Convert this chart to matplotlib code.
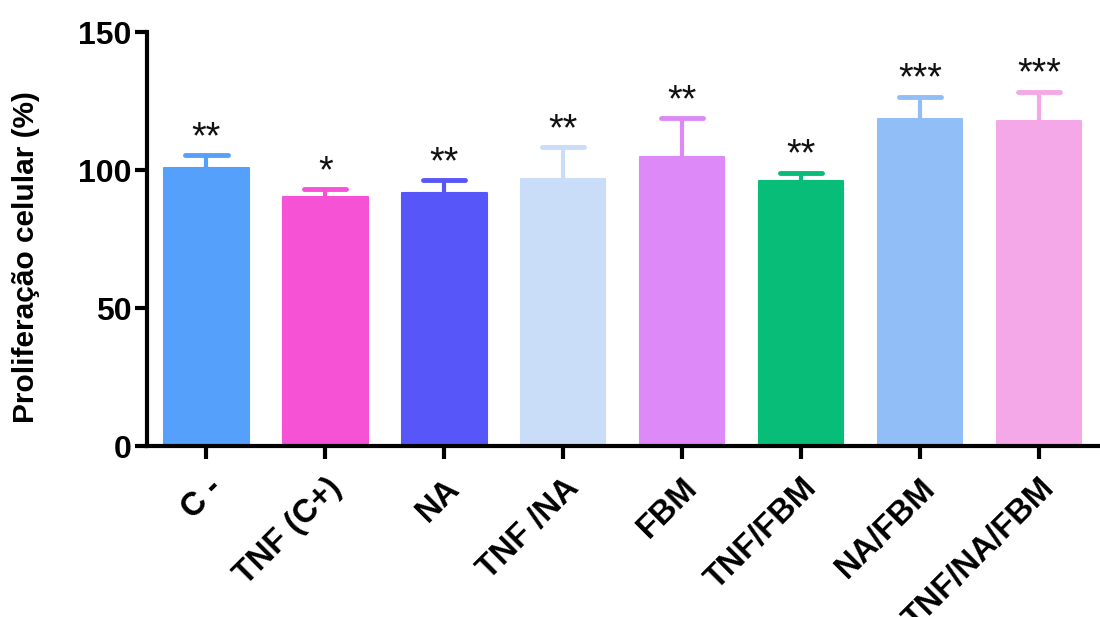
import matplotlib
matplotlib.use("Agg")
import matplotlib.pyplot as plt

plt.rcParams['font.family'] = ['Liberation Sans', 'DejaVu Sans']

# Grupos e valores (média e erro superior)
grupos = ['C -', 'TNF (C+)', 'NA', 'TNF /NA', 'FBM', 'TNF/FBM', 'NA/FBM', 'TNF/NA/FBM']
media = [100.6, 90.3, 91.7, 96.7, 104.8, 96.1, 118.5, 117.9]
erro = [4.8, 2.9, 4.7, 11.6, 13.9, 3.0, 8.1, 10.5]
signif = ['**', '*', '**', '**', '**', '**', '***', '***']
cores = ['#55A0FB', '#F552D6', '#5757F9', '#C9DDF8', '#DD8AF8', '#08BD78', '#92BEF8', '#F5A8E8']

fig = plt.figure(figsize=(11, 6.17), dpi=100)
ax = fig.add_axes([0.1336, 0.277, 0.865, 0.671])

x = list(range(len(grupos)))
largura = 0.71
ax.bar(x, media, width=largura, color=cores, edgecolor=cores, linewidth=1.5,
       joinstyle='round', zorder=2)

# só o lado de cima do erro: haste + traço horizontal
for i in x:
    topo = media[i] + erro[i]
    ax.vlines(i, media[i], topo, colors=cores[i], linewidth=3, zorder=1)
    ax.hlines(topo, i - largura / 4, i + largura / 4, colors=cores[i],
              linewidth=3.5, capstyle='round', zorder=1)
    ax.annotate(signif[i], (i, topo), xytext=(0, 5),
                textcoords='offset points', ha='center', va='baseline',
                fontsize=27, color='#111111')

ax.set_xlim(-0.5, 7.5)
ax.set_ylim(0, 150)
ax.set_yticks([0, 50, 100, 150])
ax.set_xticks(x)
ax.set_xticklabels(grupos, rotation=45, ha='right', rotation_mode='anchor',
                   fontsize=23.5, fontweight='bold')
for lab in ax.get_yticklabels():
    lab.set_fontsize(23)
    lab.set_fontweight('bold')
ax.set_ylabel('Proliferação celular (%)', fontsize=21.5, fontweight='bold')
ax.yaxis.set_label_coords(-0.112, 0.457)

for s in ['top', 'right']:
    ax.spines[s].set_visible(False)
for s in ['left', 'bottom']:
    ax.spines[s].set_linewidth(3)
ax.tick_params(width=3, length=9, pad=2)
ax.tick_params(axis='x', pad=10)

fig.savefig('out.png', dpi=100)
